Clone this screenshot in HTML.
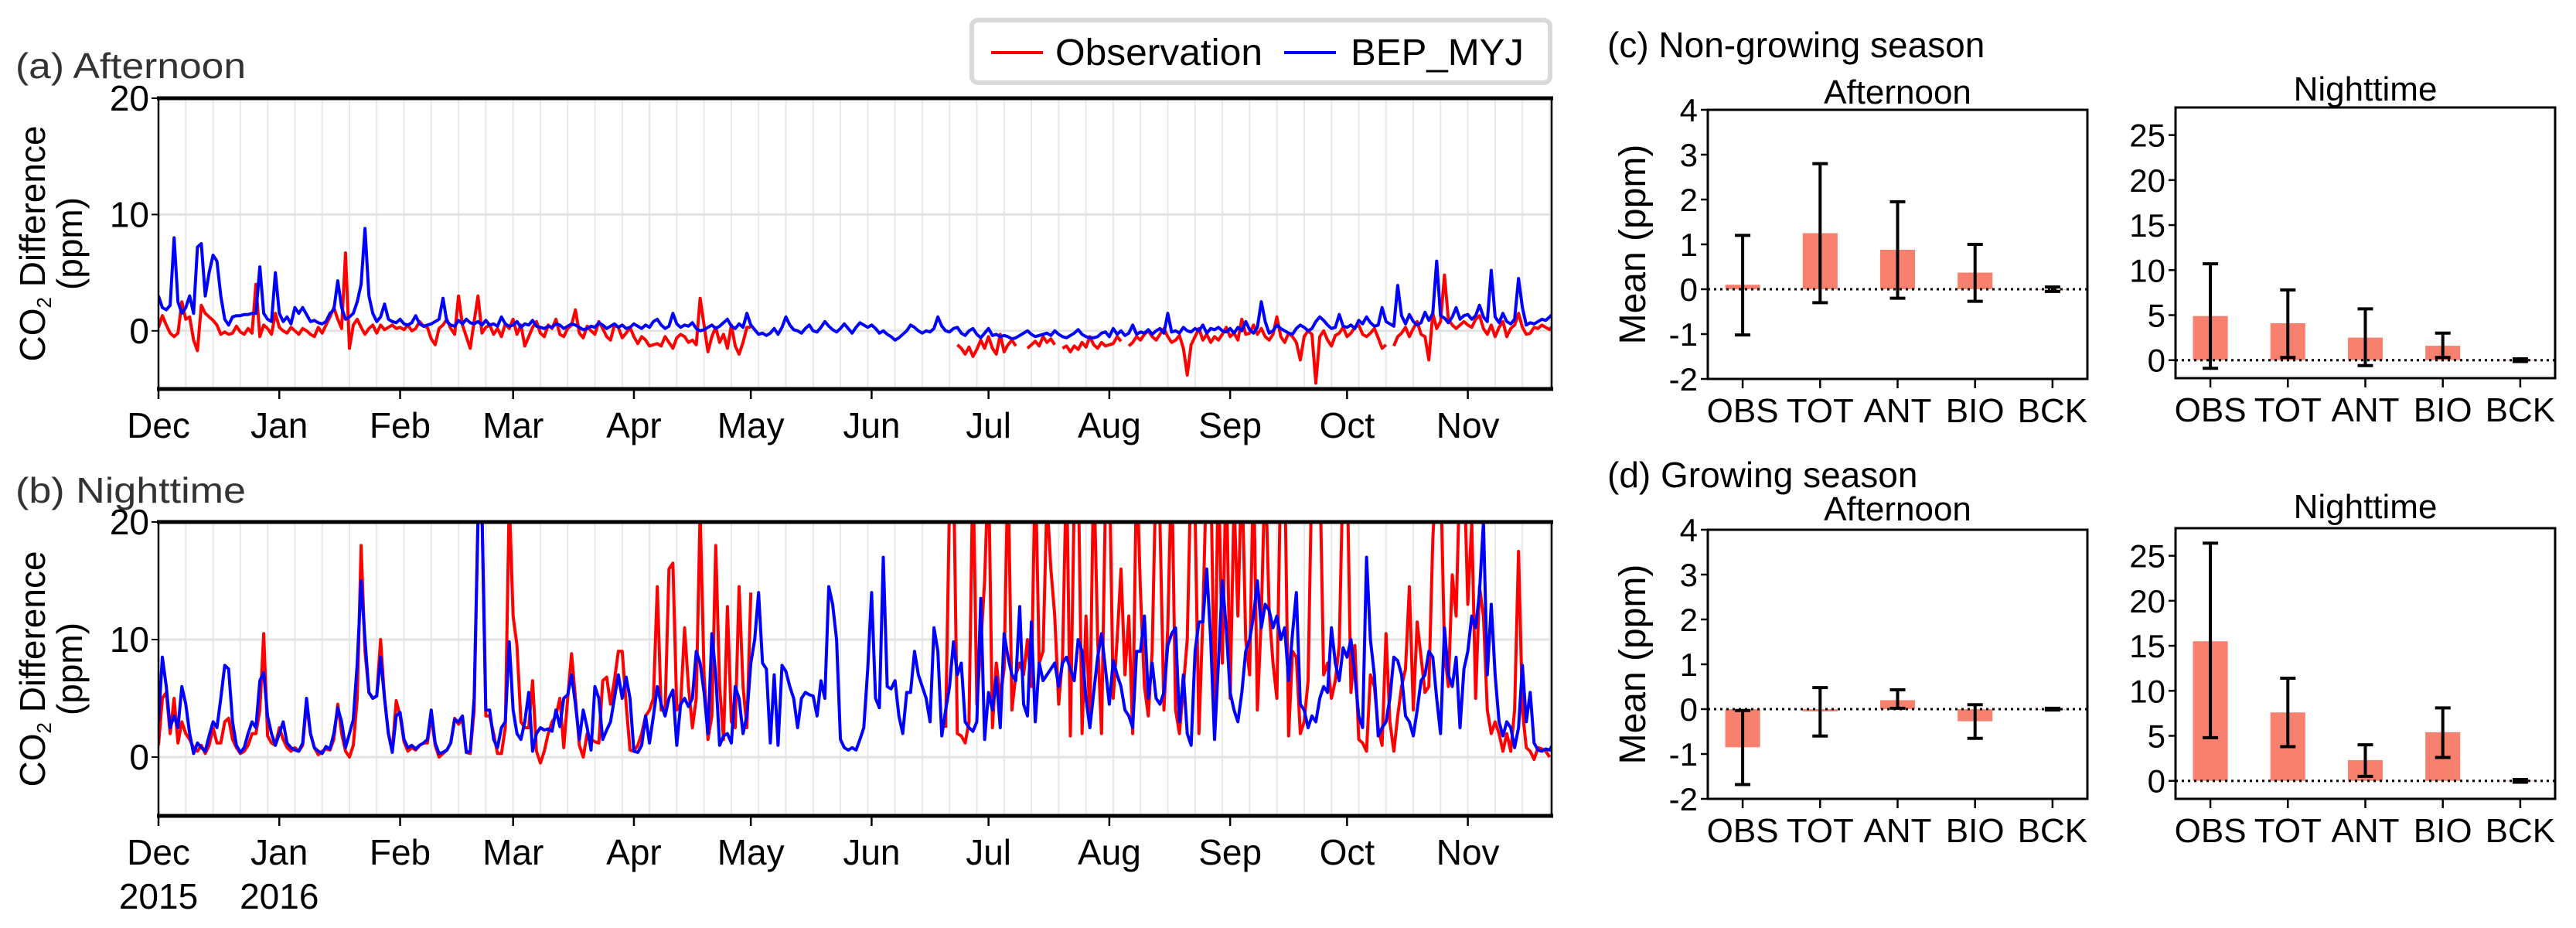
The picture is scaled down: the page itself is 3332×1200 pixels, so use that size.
<!DOCTYPE html>
<html><head><meta charset="utf-8"><style>
html,body{margin:0;padding:0;background:#fff;}
svg{display:block;font-family:"Liberation Sans",Arial,sans-serif;}
</style></head><body>
<svg id="fig" width="3332" height="1200" viewBox="0 0 3332 1200" xmlns="http://www.w3.org/2000/svg">
<defs>
<clipPath id="clipA"><rect x="205" y="127" width="1802" height="376"/></clipPath>
<clipPath id="clipB"><rect x="205" y="675" width="1802" height="380"/></clipPath>
</defs>
<g id="layer"></g>
</svg>
<script>
// ---------- time series data (daily, from 1 Dec 2015) ----------
const months = ["Dec","Jan","Feb","Mar","Apr","May","Jun","Jul","Aug","Sep","Oct","Nov"];
const monthStartDays = [0,31,62,91,122,152,183,213,244,275,305,336];
const yTicksTS = [0,10,20];
const n = null;
const modA = [3,2,1.8,2.2,8,2.5,1.5,2,3,1.5,7.2,7.5,3,5,6.5,6,3,1,0.5,1.2,1.3,1.3,1.4,1.4,1.5,1.5,5.5,1.5,1,0.8,5,
1.5,0.8,1.2,0.6,2,1.5,2,1.4,0.8,0.9,0.7,0.6,0.8,1.5,1.8,4.3,2,1,1.2,1.5,2.5,4,8.8,3,1.5,0.8,1.2,2.3,1,0.8,0.7,
1,0.6,0.5,0.7,1.3,0.6,0.4,0.5,0.6,0.8,1,2.8,0.8,0.5,0.4,0.9,0.6,1,0.7,0.6,0.8,0.5,0.9,0.5,0.6,0.4,1.2,0.6,0.4,
0.5,0.8,0.3,0.6,0.5,0.9,0.4,0.3,0.2,0.4,0.3,0.6,0.5,0.2,0.4,0.6,0.5,0.3,0.1,0.2,0.4,0.3,0.7,0.5,0.2,0.4,0.6,0.3,0.5,0.2,0.3,
0.6,0.4,0.2,0.5,0.3,0.8,1,0.5,0.2,0.4,1.5,0.6,0.3,0.5,0.4,0.7,0.2,0,0.1,0.3,0.5,0.2,0.4,0.7,1,0.4,0.2,0.6,0.3,1.5,
0.5,0.1,-0.3,-0.2,-0.4,-0.2,0.2,-0.3,0.3,1.2,0.5,0.1,0,-0.2,0.2,0.5,0,-0.1,0.3,0.8,0.4,0.1,-0.1,0.2,0.6,0.2,-0.2,0.3,0.7,0.5,0.3,
0.5,0.2,-0.2,0,-0.3,-0.5,-0.8,-0.6,-0.3,0,0.5,0.3,0,-0.2,0,-0.1,0.2,1.2,0.4,0,-0.1,0.2,0.3,-0.2,-0.4,0,0.2,-0.3,-0.6,-0.2,
0.2,-0.4,-0.3,-0.5,-0.4,-0.5,-0.7,-0.6,-0.4,-0.2,0,-0.3,-0.5,-0.4,-0.3,-0.2,-0.4,0,-0.3,-0.5,-0.6,-0.4,-0.2,0.1,-0.3,-0.5,-0.6,-0.6,-0.5,-0.2,-0.1,
-0.5,0.2,-0.3,0,-0.4,-0.2,0.5,-0.3,-0.1,-0.2,0.1,-0.3,0,0.2,-0.2,1.5,-0.1,0,-0.2,0.3,0,-0.1,0.2,0,0.5,-0.2,0.2,0.1,0.3,0,-0.1,
0.2,-0.2,0.3,0,0.8,0.1,-0.2,0.3,2.5,0.8,-0.2,0,0.5,0.2,0,-0.2,-0.3,0.2,0.5,0.3,0,0.2,0.8,1.2,0.9,0.5,0.2,0.3,1.4,0.4,
0.3,0.5,0.2,0.9,0.6,1.2,0.7,0.4,0.5,2,0.8,0.6,0.4,3.9,1.3,0.6,1.4,0.8,0.5,0.7,1.6,0.9,1.5,6,1.3,1.1,0.7,1.2,2,1.0,1.3,
1.4,1,1.3,2.2,1.2,0.8,5.2,1.2,0.7,1.5,0.8,0.6,1,4.5,2,0.5,0.7,0.6,0.8,1,0.9,1.2,1.5];
const obsA = [0.3,1.3,0.5,-0.2,-0.5,-0.2,2.5,1,1.2,-0.8,-1.7,2.2,1.5,1.2,0.9,0.5,-0.3,-0.1,-0.3,-0.2,0.4,-0.1,-0.3,0.2,-0.2,4,-0.5,0.5,0.2,-0.3,1.5,
0.3,0,-0.2,0.3,0,-0.3,0.2,0,-0.3,-0.5,0.3,-0.2,0.5,1.2,2,1,0.2,6.7,-1.5,0.5,1,0.3,-0.3,0.2,0.5,-0.2,0.5,0.1,0.3,0.5,0.2,
0.3,0.1,0.5,0,0.2,0.8,0.4,0.3,-0.7,-1.2,0.2,0.5,1,0.2,-0.3,3,0.5,-0.5,-1.5,0.8,3,-0.2,0.3,0.5,-0.3,0.2,-0.5,0.6,0.2,
1,-0.3,0.5,-1.3,-0.5,0.3,0.8,-0.2,-0.5,0.5,0.2,1,-0.3,-0.5,0.2,0.5,1.8,-0.2,-0.6,0.4,0,-0.3,0.8,0.2,-0.5,-0.8,0.5,0.3,-0.6,-0.2,0.3,
-0.5,-1.1,-0.5,-0.8,-1.3,-1.2,-1.1,-1.3,-0.5,-1,-1.5,-0.6,-0.3,-0.5,-1,-0.8,-1.2,2.8,0.5,-1.8,-0.5,0.3,-1,-0.3,-1.5,0.5,-1.3,-2,-1,0.3,
0.3,n,n,n,n,n,n,n,n,n,n,n,n,n,n,n,n,n,n,n,n,n,n,n,n,n,n,n,n,n,n,
n,n,n,n,n,n,n,n,n,n,n,n,n,n,n,n,n,n,n,n,n,n,-1.2,-1.5,-2,-1.4,-2.2,-1.6,-0.8,-1.5,
-0.5,-1.5,-2,-0.3,-1.8,-1.2,-0.8,-1.3,n,n,-1.5,-1.2,-0.9,-1.3,-0.5,-1,-0.7,-1.2,n,-1.5,-1.3,-1.8,-1.3,-1.6,-1,-1.4,-0.5,-1.2,-1.5,-1,-1.3,
-1.2,-1.1,-0.5,-0.9,n,-1.3,-1,-0.5,-0.8,-0.3,0,-0.5,-0.8,-0.3,0.2,-0.5,-1,-0.8,-0.4,-1.5,-3.8,-1.2,-0.5,0.2,-0.8,-0.3,-1,-0.5,-0.8,-0.3,0.3,
-0.5,-0.2,-0.8,1,-0.3,-0.2,0.5,-0.3,0.2,-0.5,-0.8,-0.3,1.2,-0.5,-1,-0.2,-0.5,-1,-2.5,-0.5,0,-0.3,-4.5,-0.5,0,-0.8,-1.3,-0.4,-0.2,0.3,
-0.5,-0.2,0.3,0.5,-0.3,-0.5,-0.2,0.2,-0.6,-1.5,-1.2,n,-1.3,-0.5,-0.2,0.3,-0.5,0.2,0.8,-0.3,-0.5,-2.5,1.5,0.2,0.8,4.8,1,0.5,0.2,0.5,0.8,
0.5,0.3,1,1.3,0.2,-0.3,0.5,-0.5,0.3,0.8,-0.5,0.2,0.5,1.5,0.3,-0.3,-0.2,0.3,0.2,0.5,0.3,0.1,0.5];
const modN = [3,8.5,6,2.5,3.5,2.5,6,4.5,2,0.3,1.2,0.8,0.5,1.8,3,2.5,5,7.8,7.5,3,1,0.4,0.8,2,3,2.5,6.5,7.2,3.5,2,1,
2,3,1.2,0.8,0.6,0.5,1.2,5,2,0.8,0.5,0.3,0.9,0.7,2,4.2,3,0.8,2,3.2,8,15,10,5.5,5,5.2,8.5,5,2,0.4,3.5,
3.8,1.5,0.8,1,0.7,1,1.2,1.5,4,1.2,0.3,0.4,0.6,1.2,3.2,3,3.5,0.4,0.5,5,20,21,4,4,1.5,0.8,2.5,3,9.8,
4,2,1.5,3,5.5,0.5,2,2.5,2.3,2.4,2.2,4,2.6,5,5.3,7,4.5,1.5,4,2.5,0.6,6,5,1.5,2.3,3,5,7,5,6.8,5,
0.5,0.4,1,3.5,1.2,3.5,6,4.5,3.5,5,5.7,1,4.5,5,4.3,5,9,8,5.5,2,10.5,7,1,1.8,2,1.2,6,5,2,3.5,
8,10,14,8,7.5,1.2,7,1,7.8,7.3,6,5,2.5,5,5.5,5.3,5.2,3.5,6.5,5,14.5,13,10,1.5,0.8,0.6,0.8,0.6,1.5,2.5,7.5,
14,5,4.2,17,6,5.8,6.5,3.5,2,5.5,5.5,9,7,6,5,3,11,9,1.8,4,6,9.8,7,8,3,2.5,2.2,3,13.5,1.5,
5.5,4,6.8,2.5,10.5,8.5,7,6.5,12.8,4.5,3.5,11.5,3,8,6.5,7,7.5,8,6,8,8.5,7.5,6.5,10,9,5,2.5,5.5,8.5,10.5,7.5,
4.5,8.2,7,6,4,3.5,2.5,9,9,12,5,8,5,4.5,5.5,9.5,10.5,11,3,7,2,1,9,11.5,11.5,16,10,1.5,8,15,11,
5.5,4,3,5.5,9,10,12,15,11,13,12.5,11,12,10,11,6.5,10.5,14,4.5,4,2.5,3.5,3,5,6,5.5,11,8,6.5,9.3,
8.5,10,7,3.5,2.5,17,10,7,1.8,2.5,3,5,8.5,8.2,7,3.5,3,1.8,4,6.5,7,9,8.5,5,2,11,7,6,8.5,2.5,7.5,
9,12,11,14,20,7,13,7,3,1.8,3,2.5,0.8,2.5,7.8,3,5.5,1.2,0.6,0.5,0.7,0.6,1.2];
const obsN = [1,5,5.5,2,5,1.2,3,2,1.5,0.8,0.5,1,0.3,1,2.5,1.2,1.2,3,3.3,1.5,0.8,0.3,0.5,1,2,2,4,10.5,1.8,1.2,1,
2.5,1.5,0.8,0.5,0.8,0.5,1,4.5,2,0.8,0.2,0.5,0.7,0.6,1.5,4.5,2,0.5,0,1,5,18,9,5.5,5,5.2,10,5,2,0.6,4.8,
3.5,1.3,0.5,0.8,0.6,1,1.2,1.2,3.5,1,0,0.3,0.6,1.2,3.3,2.8,3.2,0.4,0.3,4,21,21,3.5,3.5,2,0.3,0.3,2.5,22,
12,9.5,3,2.5,2.5,6.5,0.5,-0.5,0.5,2,3,3.5,5,0.8,5,8.8,5,1,0,2,1.5,1.3,1.2,6.5,6.8,4.5,6.5,9,9,4.5,0.6,
0.5,1,2,3.5,4,5,14.5,4,4,16,16.5,4,4.5,11,6,2.5,5,21,7,1.5,3.5,18,6,1.5,12.8,3,2.5,14.5,6,2.5,
14,n,n,n,n,n,n,n,n,n,n,n,n,n,n,n,n,n,n,n,n,n,n,n,n,n,n,n,n,n,n,
n,n,n,n,n,n,n,n,n,n,n,n,n,n,n,n,n,n,n,2.5,22,25,2,1.8,1.2,3,25,4.5,9.5,
15,25,2.5,8,5,7.5,25,4,7,8,7,10,6,25,8,9,22,16,12,4.5,8.5,25,1.8,22,25,2,12,3,25,10,2,
22,25,5,10,16,7,12,2,25,14,6,3.5,9,25,20,4,11,25,4,2,6,10,25,21,2,12,25,25,4,25,8,
25,5,22,12,25,10,7,25,4,12,25,12.5,8,5,25,25,1.8,9,8.5,2,3,6.5,25,25,25,7,8,5,6.5,9.5,
25,25,5.5,9.5,1.5,1.2,0.5,7,6,2.5,1,10.5,3,0.5,3.5,6,7.5,14.5,4,11.5,8.5,5.5,6,18.5,25,25,9,6,15.5,12,25,
25,13,20,5,14.5,12,4,2,3,2,0.5,2,0.5,4,17.5,4,0.8,0.5,-0.2,0.8,0.7,0.5,0];

// ---------- bar chart data ----------
const cats = ["OBS","TOT","ANT","BIO","BCK"];
const cAftMean = [0.1,1.25,0.88,0.37,0];
const cAftLo = [-1.02,-0.3,-0.2,-0.27,-0.05];
const cAftHi = [1.2,2.8,1.95,1.0,0.05];
const cNgtMean = [4.9,4.1,2.5,1.6,0];
const cNgtLo = [-0.9,0.3,-0.6,0.3,-0.15];
const cNgtHi = [10.7,7.8,5.7,3.0,0.15];
const dAftMean = [-0.85,-0.05,0.2,-0.27,0];
const dAftLo = [-1.68,-0.6,0.02,-0.65,-0.02];
const dAftHi = [-0.03,0.48,0.43,0.1,0.02];
const dNgtMean = [15.5,7.6,2.3,5.4,0];
const dNgtLo = [4.8,3.8,0.5,2.6,-0.15];
const dNgtHi = [26.4,11.4,4.0,8.1,0.15];
const aftTicks = [-2,-1,0,1,2,3,4];
const ngtTicks = [0,5,10,15,20,25];

const NS = "http://www.w3.org/2000/svg";
const root = document.getElementById("layer");
function mk(tag, attrs, parent, txt){
  const e = document.createElementNS(NS, tag);
  for (const k in attrs) e.setAttribute(k, attrs[k]);
  if (txt !== undefined) e.textContent = txt;
  (parent || root).appendChild(e);
  return e;
}

// ---------- time series panels ----------
const X0 = 205, X1 = 2007, DAYS = 357.5;
const xD = d => X0 + d * (X1 - X0) / DAYS;

function tsPanel(key, top, bottom, obs, mod, title, titleY, clip, years){
  const yV = v => bottom - (v + 5) * (bottom - top) / 25;
  const g = mk("g", {});
  
  
  const t = mk("text", {x: 20, y: titleY, "font-size": 46, fill: "#333", textLength: 298, lengthAdjust: "spacingAndGlyphs"}, g, title);
  
  
  for (let d = 7; d < DAYS; d += 7) {
    const l = mk("line", {x1: xD(d), x2: xD(d), y1: top, y2: bottom, stroke: "#e8e8e8", "stroke-width": 2}, g);
    
    
  }
  yTicksTS.forEach(v => {
    const l = mk("line", {x1: X0, x2: X1, y1: yV(v), y2: yV(v), stroke: "#e3e3e3", "stroke-width": 3}, g);
    
    
    const tk = mk("line", {x1: X0 - 9, x2: X0, y1: yV(v), y2: yV(v), stroke: "#000", "stroke-width": 2}, g);
    
    
    const lb = mk("text", {x: X0 - 12, y: yV(v) + 16, "font-size": 46, "text-anchor": "end"}, g, String(v));
    
    
  });
  function series(arr, color, name){
    let dstr = "", pen = false;
    arr.forEach((v, i) => {
      if (v === null) { pen = false; return; }
      dstr += (pen ? "L" : "M") + xD(i).toFixed(1) + "," + yV(v).toFixed(1);
      pen = true;
    });
    const p = mk("path", {d: dstr, fill: "none", stroke: color, "stroke-width": 4, "stroke-linejoin": "round", "clip-path": "url(#" + clip + ")"}, g);
    
    
  }
  series(obs, "#ff0000", key + '-observation-line');
  series(mod, "#0000ff", key + '-bep-myj-line');
  const s1 = mk("line", {x1: X0 - 2, x2: X1 + 2, y1: top, y2: top, stroke: "#000", "stroke-width": 5}, g);
   
  const s2 = mk("line", {x1: X0 - 2, x2: X1 + 2, y1: bottom, y2: bottom, stroke: "#000", "stroke-width": 5}, g);
   
  const s3 = mk("line", {x1: X0, x2: X0, y1: top, y2: bottom, stroke: "#000", "stroke-width": 2.5}, g);
   
  const s4 = mk("line", {x1: X1, x2: X1, y1: top, y2: bottom, stroke: "#000", "stroke-width": 2.5}, g);
   
  months.forEach((m, i) => {
    const x = xD(monthStartDays[i]);
    const tk = mk("line", {x1: x, x2: x, y1: bottom, y2: bottom + 13, stroke: "#000", "stroke-width": 2.5}, g);
    
    
    const lb = mk("text", {x: x, y: bottom + 63, "font-size": 46, "text-anchor": "middle"}, g, m);
    
    
  });
  if (years) {
    years.forEach((yr, i) => {
      const lb = mk("text", {x: xD(monthStartDays[i]), y: bottom + 120, "font-size": 46, "text-anchor": "middle"}, g, yr);
      
      
    });
  }
  const cy = (top + bottom) / 2;
  const yl = mk("text", {transform: "translate(58," + cy + ") rotate(-90)", "font-size": 46, "text-anchor": "middle"}, g);
  
  
  mk("tspan", {}, yl, "CO");
  mk("tspan", {"font-size": 26, dy: 8}, yl, "2");
  mk("tspan", {dy: -8}, yl, " Difference");
  const yl2 = mk("text", {transform: "translate(106," + cy + ") rotate(-90)", "font-size": 46, "text-anchor": "middle"}, g, "(ppm)");
  
  
}
tsPanel("afternoon", 127, 503, obsA, modA, "(a) Afternoon", 101, "clipA", null);
tsPanel("nighttime", 675, 1055, obsN, modN, "(b) Nighttime", 650, "clipB", ["2015","2016"]);

const lg = mk("g", {});


mk("rect", {x: 1257, y: 26, width: 748, height: 81, rx: 8, fill: "#fff", stroke: "#d9d9d9", "stroke-width": 6}, lg);
const le1 = mk("line", {x1: 1282, x2: 1349, y1: 68, y2: 68, stroke: "#ff0000", "stroke-width": 4}, lg);
 
const lt1 = mk("text", {x: 1365, y: 84, "font-size": 48, textLength: 268, lengthAdjust: "spacingAndGlyphs"}, lg, "Observation");
 
const le2 = mk("line", {x1: 1661, x2: 1728, y1: 68, y2: 68, stroke: "#0000ff", "stroke-width": 4}, lg);
 
const lt2 = mk("text", {x: 1747, y: 84, "font-size": 48, textLength: 224, lengthAdjust: "spacingAndGlyphs"}, lg, "BEP_MYJ");
 

function barPanel(key, L, R, T, B, ymin, ymax, ticks, mean, lo, hi, sub, subY, ylabel){
  const g = mk("g", {});
  
  
  const yV = v => B - (v - ymin) * (B - T) / (ymax - ymin);
  const xC = i => L + (i + 0.45) * (R - L) / 4.9;
  const bw = 0.45 * (R - L) / 4.9;
  const st = mk("text", {x: (L + R) / 2, y: subY, "font-size": 44, "text-anchor": "middle"}, g, sub);
   
  cats.forEach((c, i) => {
    const y0 = yV(0), y1 = yV(mean[i]);
    const b = mk("rect", {x: xC(i) - bw / 2, y: Math.min(y0, y1), width: bw, height: Math.max(Math.abs(y0 - y1), 0.5), fill: "#f8806f"}, g);
    
    
  });
  const zl = mk("line", {x1: L, x2: R, y1: yV(0), y2: yV(0), stroke: "#000", "stroke-width": 3, "stroke-dasharray": "3,5"}, g);
   
  cats.forEach((c, i) => {
    const x = xC(i);
    const e = mk("path", {d: "M" + x + "," + yV(lo[i]) + "V" + yV(hi[i]) + "M" + (x - 10) + "," + yV(lo[i]) + "H" + (x + 10) + "M" + (x - 10) + "," + yV(hi[i]) + "H" + (x + 10), stroke: "#000", "stroke-width": 4, fill: "none"}, g);
    
    
    const tk = mk("line", {x1: x, x2: x, y1: B, y2: B + 12, stroke: "#000", "stroke-width": 2.5}, g);
     
    const lb = mk("text", {x: x, y: B + 56, "font-size": 44, "text-anchor": "middle"}, g, c);
     
  });
  ticks.forEach(v => {
    const tk = mk("line", {x1: L - 9, x2: L, y1: yV(v), y2: yV(v), stroke: "#000", "stroke-width": 2.5}, g);
     
    const lb = mk("text", {x: L - 13, y: yV(v) + 15, "font-size": 42, "text-anchor": "end"}, g, String(v));
     
  });
  const fr = mk("rect", {x: L, y: T, width: R - L, height: B - T, fill: "none", stroke: "#000", "stroke-width": 3}, g);
   
  if (ylabel) {
    const yl = mk("text", {transform: "translate(2128," + (T + B) / 2 + ") rotate(-90)", "font-size": 48, "text-anchor": "middle"}, g, "Mean (ppm)");
     
  }
}
const ct = mk("text", {x: 2079, y: 74, "font-size": 46}, root, "(c) Non-growing season");
 
const dt = mk("text", {x: 2079, y: 630, "font-size": 46}, root, "(d) Growing season");
 
barPanel("c-afternoon", 2209, 2700, 142, 490, -2, 4, aftTicks, cAftMean, cAftLo, cAftHi, "Afternoon", 134, true);
barPanel("c-nighttime", 2814, 3305, 139, 489, -2, 28.06, ngtTicks, cNgtMean, cNgtLo, cNgtHi, "Nighttime", 130, false);
barPanel("d-afternoon", 2209, 2700, 685, 1033, -2, 4, aftTicks, dAftMean, dAftLo, dAftHi, "Afternoon", 673, true);
barPanel("d-nighttime", 2814, 3305, 683, 1033, -2, 28.06, ngtTicks, dNgtMean, dNgtLo, dNgtHi, "Nighttime", 670, false);
</script>
</body></html>
